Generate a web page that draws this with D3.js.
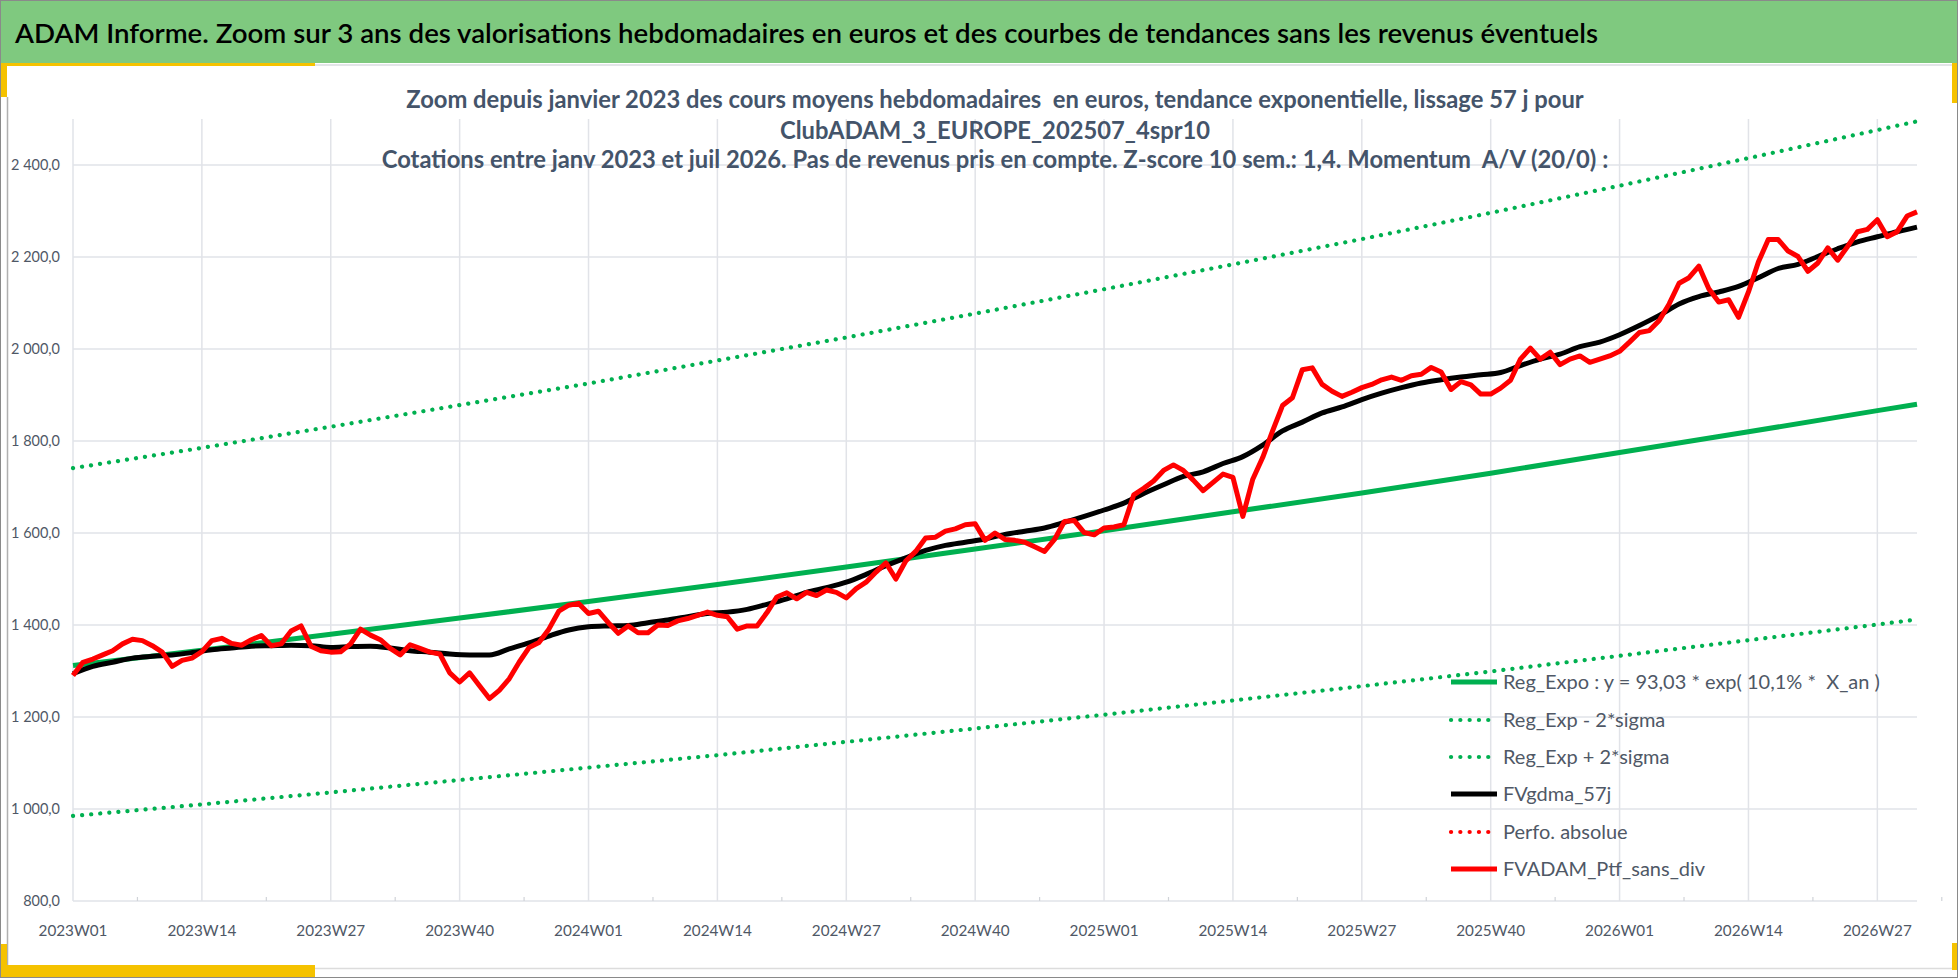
<!DOCTYPE html>
<html><head><meta charset="utf-8">
<script src="https://cdn.jsdelivr.net/npm/d3@7"></script>
<style>
html,body{margin:0;padding:0;background:#fff;}
svg{display:block;}
text{font-family:Lato,"Open Sans","DejaVu Sans",sans-serif;}
</style>
</head><body>
<svg id="chart" width="1958" height="979"></svg>
<script>
// ---------- DATA ----------
const titleText = "ADAM Informe. Zoom sur 3 ans des valorisations hebdomadaires en euros et des courbes de tendances sans les revenus éventuels";
const subtitleLines = [
  "Zoom depuis janvier 2023 des cours moyens hebdomadaires  en euros, tendance exponentielle, lissage 57 j pour",
  "ClubADAM_3_EUROPE_202507_4spr10",
  "Cotations entre janv 2023 et juil 2026. Pas de revenus pris en compte. Z-score 10 sem.: 1,4. Momentum  A/V (20/0) :"
];
const firstYear = 2023;
const weeksPerYear = 52;
const nWeeks = 187; // 2023W01 .. 2026W31
const tickLabels = ["2023W01","2023W14","2023W27","2023W40","2024W01","2024W14","2024W27","2024W40","2025W01","2025W14","2025W27","2025W40","2026W01","2026W14","2026W27"];
const yTicks = [800,1000,1200,1400,1600,1800,2000,2200,2400];

// regression curves read at each 13-week tick + last week
const regWeeks = [0,13,26,39,52,65,78,91,104,117,130,143,156,169,182,186];
const regExpo  = [1312,1345,1380,1415,1451,1488,1526,1565,1605,1646,1687,1730,1775,1820,1866,1880];
const regPlus  = [1741,1785,1831,1878,1925,1975,2025,2077,2130,2184,2239,2296,2355,2415,2476,2495];
const regMinus = [985,1010,1036,1063,1090,1117,1146,1175,1205,1236,1267,1299,1333,1367,1401,1412];

// FVgdma_57j read every second week (week index 0,2,4,...,186)
const gdmaValues = [1294,1310,1319,1328,1332,1335,1340,1346,1350,1354,1355,1356,1355,1351,1353,1354,1350,1344,1341,1337,
  1335,1335,1348,1361,1376,1389,1396,1398,1399,1405,1411,1418,1425,1428,1434,1445,1457,1471,1481,1493,
  1510,1529,1546,1562,1573,1580,1587,1597,1604,1611,1623,1636,1650,1665,1686,1705,1723,1733,1751,1766,
  1791,1822,1841,1861,1874,1890,1904,1916,1926,1933,1939,1944,1949,1964,1978,1989,2005,2015,2031,2051,
  2073,2098,2114,2124,2136,2155,2175,2184,2201,2218,2233,2244,2255,2265];

// FVADAM_Ptf_sans_div weekly values
const ptfValues = [1290,1319,1326,1335,1344,1359,1369,1366,1355,1341,1310,1323,1328,1342,1366,1371,1360,1356,1368,1377,
  1355,1359,1387,1398,1354,1344,1341,1342,1359,1391,1378,1368,1349,1335,1357,1349,1341,1337,1296,1276,
  1296,1268,1240,1258,1283,1319,1351,1362,1391,1430,1443,1447,1425,1430,1405,1382,1398,1383,1383,1400,
  1399,1409,1414,1421,1428,1421,1418,1391,1398,1398,1427,1461,1470,1457,1471,1464,1476,1471,1459,1479,
  1493,1515,1535,1500,1539,1560,1589,1591,1604,1609,1618,1620,1584,1600,1586,1584,1580,1570,1560,1586,
  1625,1627,1601,1596,1611,1613,1618,1683,1697,1713,1736,1748,1736,1715,1692,1710,1728,1721,1636,1717,
  1764,1822,1877,1894,1955,1959,1923,1908,1897,1906,1916,1923,1933,1939,1932,1942,1945,1960,1950,1912,
  1929,1922,1902,1902,1915,1932,1978,2002,1978,1993,1966,1978,1985,1971,1978,1985,1995,2015,2036,2040,
  2062,2098,2143,2155,2180,2131,2102,2107,2069,2124,2189,2238,2238,2213,2201,2169,2187,2220,2193,2223,
  2255,2260,2281,2244,2255,2289,2298];

const legendNames = ["Reg_Expo : y = 93,03 * exp( 10,1% *  X_an )","Reg_Exp - 2*sigma","Reg_Exp + 2*sigma","FVgdma_57j","Perfo. absolue","FVADAM_Ptf_sans_div"];
const legendColors = ["#00B050","#00B050","#00B050","#000000","#FF0000","#FF0000"];
const legendDotted = [false,true,true,false,true,false];

// ---------- BUILD ----------
const weekLabels = [];
for (let i = 0; i < nWeeks; i++) {
  const y = firstYear + Math.floor(i / weeksPerYear);
  const w = (i % weeksPerYear) + 1;
  weekLabels.push(y + "W" + String(w).padStart(2, "0"));
}
const svg = d3.select("#chart");
const W = 1958, H = 979;
const plot = {left: 73, right: 1917, top: 119, bottom: 901};

const x = d3.scalePoint().domain(weekLabels).range([plot.left, plot.right]);
const y = d3.scaleLinear().domain([800, 2500]).range([plot.bottom, plot.top]);
const loc = d3.formatLocale({decimal: ",", thousands: " ", grouping: [3], currency: ["", "€"]});
const fmt = loc.format(",.1f");

const textCol = "#4f5866";
const gridCol = "#e1e3e8";
const yellow = "#F5C200";

function fit(sel, target) {
  const w = sel.node().getComputedTextLength();
  const fs = parseFloat(sel.attr("font-size"));
  sel.attr("font-size", fs * target / w);
  return fs * target / w;
}

// background & frame decorations
svg.append("rect").attr("x", 0).attr("y", 0).attr("width", W).attr("height", H).attr("fill", "#fff");
svg.append("rect").attr("x", 0).attr("y", 0).attr("width", W).attr("height", 63).attr("fill", "#7FC97F");
svg.append("line").attr("x1", 315).attr("x2", 1953).attr("y1", 65).attr("y2", 65).attr("stroke", "#e3e5e8").attr("stroke-width", 2);
svg.append("rect").attr("x", 0).attr("y", 63).attr("width", 315).attr("height", 3).attr("fill", yellow);
svg.append("rect").attr("x", 0).attr("y", 63).attr("width", 7).attr("height", 34).attr("fill", yellow);
svg.append("rect").attr("x", 1952).attr("y", 63).attr("width", 6).attr("height", 40).attr("fill", yellow);
svg.append("rect").attr("x", 1952).attr("y", 943).attr("width", 6).attr("height", 27).attr("fill", yellow);
svg.append("line").attr("x1", 7.5).attr("x2", 7.5).attr("y1", 97).attr("y2", 966).attr("stroke", "#b0b0b0").attr("stroke-width", 1.5);
svg.append("line").attr("x1", 315).attr("x2", 1952).attr("y1", 968.5).attr("y2", 968.5).attr("stroke", "#dcdcdc").attr("stroke-width", 1.5);
svg.append("rect").attr("x", 0).attr("y", 944).attr("width", 7).attr("height", 33).attr("fill", yellow);
svg.append("rect").attr("x", 0).attr("y", 965).attr("width", 315).attr("height", 12).attr("fill", yellow);
svg.append("rect").attr("x", 0.5).attr("y", 0.5).attr("width", W - 1).attr("height", H - 2).attr("fill", "none").attr("stroke", "#8a8a8a").attr("stroke-width", 1);

// title
svg.append("text").attr("x", 15).attr("y", 43).attr("font-size", 26).attr("font-weight", 600)
  .attr("textLength", 1583).attr("lengthAdjust", "spacingAndGlyphs")
  .attr("fill", "#000").text(titleText);

// gridlines
svg.append("g").selectAll("line").data(yTicks).join("line")
  .attr("x1", plot.left).attr("x2", plot.right)
  .attr("y1", d => y(d)).attr("y2", d => y(d))
  .attr("stroke", gridCol).attr("stroke-width", 1.5);
svg.append("g").selectAll("line").data(tickLabels).join("line")
  .attr("x1", d => x(d)).attr("x2", d => x(d))
  .attr("y1", plot.top).attr("y2", plot.bottom)
  .attr("stroke", gridCol).attr("stroke-width", 1.5);
// minor ticks between labelled ticks
const step = x.step();
svg.append("g").selectAll("line").data(tickLabels).join("line")
  .attr("x1", d => x(d) + 6.5 * step).attr("x2", d => x(d) + 6.5 * step)
  .attr("y1", plot.bottom - 4).attr("y2", plot.bottom)
  .attr("stroke", "#d0d3d8").attr("stroke-width", 1.2);

// subtitles (over gridlines)
const subY = [108, 139, 168];
let subFs = null;
subtitleLines.forEach((s, i) => {
  const el = svg.append("text").attr("x", 995).attr("y", subY[i]).attr("text-anchor", "middle")
    .attr("font-size", 21).attr("font-weight", 700).attr("fill", "#44546A").style("white-space", "pre").text(s);
  if (i === 0) subFs = fit(el, 1178); else el.attr("font-size", subFs);
});

// y axis labels
const yl = svg.append("g").selectAll("text").data(yTicks).join("text")
  .attr("x", 60).attr("y", d => y(d) + 5.5).attr("text-anchor", "end")
  .attr("font-size", 15).attr("fill", textCol).text(d => fmt(d));
{
  const n = yl.filter(d => d === 2400);
  const w = n.node().getComputedTextLength();
  const fs = 15 * 49 / w;
  yl.attr("font-size", fs).attr("y", d => y(d) + fs * 0.36);
}
// x axis labels
const xl = svg.append("g").selectAll("text").data(tickLabels).join("text")
  .attr("x", d => x(d)).attr("y", 936).attr("text-anchor", "middle")
  .attr("font-size", 16).attr("fill", textCol).text(d => d);
{
  const w = xl.filter(d => d === "2023W14").node().getComputedTextLength();
  xl.attr("font-size", 16 * 69 / w);
}

// series
const lineGen = d3.line().x(d => x(d[0])).y(d => y(d[1]));
function pts(idx, vals) { return idx.map((k, j) => [weekLabels[k], vals[j]]); }
const gdmaWeeks = gdmaValues.map((v, j) => j * 2);
const ptfWeeks = ptfValues.map((v, j) => j);

const dotted = {dash: "0.1 9", width: 4.2};
svg.append("path").attr("d", lineGen(pts(regWeeks, regMinus))).attr("fill", "none")
  .attr("stroke", "#00B050").attr("stroke-width", dotted.width).attr("stroke-linecap", "round").attr("stroke-dasharray", dotted.dash);
svg.append("path").attr("d", lineGen(pts(regWeeks, regPlus))).attr("fill", "none")
  .attr("stroke", "#00B050").attr("stroke-width", dotted.width).attr("stroke-linecap", "round").attr("stroke-dasharray", dotted.dash);
svg.append("path").attr("d", lineGen(pts(regWeeks, regExpo))).attr("fill", "none")
  .attr("stroke", "#00B050").attr("stroke-width", 5).attr("stroke-linejoin", "round");
svg.append("path").attr("d", d3.line().curve(d3.curveMonotoneX).x(d => x(d[0])).y(d => y(d[1]))(pts(gdmaWeeks, gdmaValues)))
  .attr("fill", "none").attr("stroke", "#000").attr("stroke-width", 5).attr("stroke-linejoin", "round");
svg.append("path").attr("d", lineGen(pts(ptfWeeks, ptfValues))).attr("fill", "none")
  .attr("stroke", "#FF0000").attr("stroke-width", 5).attr("stroke-linejoin", "round");

// legend
const legY = [682, 720, 757, 794, 832, 869];
const lg = svg.append("g");
legendNames.forEach((name, i) => {
  const ln = lg.append("line").attr("x1", 1451).attr("x2", 1497).attr("y1", legY[i]).attr("y2", legY[i])
    .attr("stroke", legendColors[i]).attr("stroke-width", legendDotted[i] ? 4.2 : 5);
  if (legendDotted[i]) ln.attr("stroke-dasharray", "0.1 9.2").attr("stroke-linecap", "round");
});
const lt = lg.selectAll("text").data(legendNames).join("text")
  .attr("x", 1503).attr("y", (d, i) => legY[i] + 6.5)
  .attr("font-size", 18).attr("fill", textCol).style("white-space", "pre").text(d => d);
{
  const w = lt.filter((d, i) => i === 0).node().getComputedTextLength();
  const fs = 18 * 377 / w;
  lt.attr("font-size", fs).attr("y", (d, i) => legY[i] + fs * 0.35);
}
</script>
</body></html>
